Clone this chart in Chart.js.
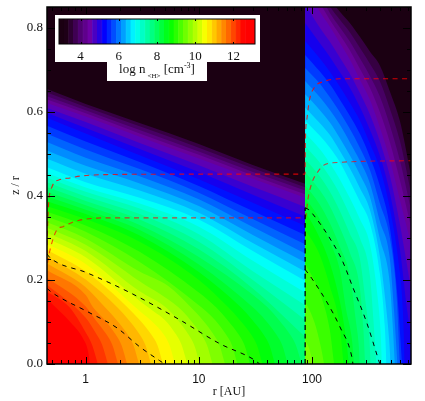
<!DOCTYPE html>
<html>
<head>
<meta charset="utf-8">
<script src="https://cdn.jsdelivr.net/npm/chart.js@4"></script>
<style>
html, body { margin: 0; padding: 0; background: #fff; }
#wrap { position: relative; width: 425px; height: 401px; overflow: hidden; }
#main { position: absolute; left: 0; top: 0; }
.box { position: absolute; background: #fff; }
#barbox { left: 55px; top: 15px; width: 205px; height: 47px; }
#unitbox { left: 107px; top: 62px; width: 100px; height: 19px; }
#bar { position: absolute; left: 55px; top: 15px; }
#unit { position: absolute; left: 107px; top: 61px; width: 100px; text-align: center; font: 13px "Liberation Serif", serif; color: #111; white-space: nowrap; }
#unit .s { font-size: 7px; position: relative; top: 5px; margin-left: 2px; }
#unit .u { font-size: 8px; position: relative; top: -5px; }
</style>
</head>
<body>
<div id="wrap">
  <canvas id="main" width="425" height="401"></canvas>
  <div class="box" id="barbox"></div>
  <div class="box" id="unitbox"></div>
  <canvas id="bar" width="205" height="47"></canvas>
  <div id="unit">log n<span class="s">&lt;H&gt;</span> [cm<span class="u">-3</span>]</div>
</div>
<script>
// colour table
const paletteValues = [2.9, 3.3, 4.0, 4.5, 5.27, 6.83, 8.7, 10.56, 12.55, 13.2];
const paletteColors = [[26,0,16],[31,0,24],[80,0,115],[110,0,165],[0,0,255],[0,255,255],[0,255,0],[255,255,0],[255,0,0],[255,0,0]];
const barLevels = [3,3.25,3.5,3.75,4,4.25,4.5,4.75,5,5.25,5.5,5.75,6,6.25,6.5,6.75,7,7.25,7.5,7.75,8,8.25,8.5,8.75,9,9.25,9.5,9.75,10,10.25,10.5,10.75,11,11.25,11.5,11.75,12,12.25,12.5,12.75,13];
const barLabels = [4,6,8,10,12];

// density contours inside the 87 AU break: z/r at each r column, then the tail down to the midplane
const innerColumns = [0.45,1,3,10,30,87];
const innerLevels = [3.5,3.75,4,4.25,4.5,4.75,5,5.25,5.5,5.75,6,6.25,6.5,6.75,7,7.25,7.5,7.75,8,8.25,8.5,8.75,9,9.25,9.5,9.75,10,10.25,10.5,10.75,11,11.25,11.5,11.75,12,12.25,12.5];
const innerZ = [
  [.655,.619,.574,.524,.474,.429],[.647,.612,.566,.515,.466,.421],[.638,.604,.557,.506,.457,.413],[.63,.597,.549,.498,.449,.404],
  [.622,.589,.541,.489,.441,.396],[.61,.576,.526,.473,.422,.374],[.599,.562,.512,.457,.403,.351],[.587,.549,.497,.44,.384,.329],
  [.568,.53,.481,.424,.364,.307],[.549,.511,.464,.408,.345,.285],[.529,.491,.447,.392,.326,.263],[.509,.472,.43,.376,.307,.242],
  [.489,.453,.413,.36,.288,.22],[.469,.433,.396,.344,.269,.198],[.455,.42,.382,.327,.246,.17],[.444,.41,.37,.309,.221,.14],
  [.433,.399,.357,.291,.2,.105],[.422,.388,.344,.273,.18,.065],[.41,.378,.331,.255,.165],[.399,.367,.319,.237,.135],
  [.388,.357,.306,.219],[.376,.345,.291,.2],[.363,.33,.267,.17],[.351,.315,.243,.14],
  [.338,.299,.22],[.325,.284,.197],[.313,.269,.173],[.3,.254,.15],
  [.287,.238,.126],[.272,.22,.105],[.256,.201],[.24,.183],
  [.224,.164],[.207,.137],[.19,.11],[.173],[.156]
];
const innerTailR = [[],[],[],[],[],[],[],[],[],[],[],[],[],[],[],[],[],[],
  [40.5,51,64,72,81],[38.6,48.4,54.5,61],[23.5,29.7,37.3,42,47],[18.2,23,29,32.6,36.5],[14.2,17.9,22.5,25.3,28.3],[13.9,17.4,19.6,21.9],
  [5.4,8.5,10.8,13.5,15.2,17],[6.6,8.4,10.5,11.8,13.2],[5.1,6.5,8.1,9.1,10.2],[4,5,6.3,7.05,7.9],[3.9,4.9,5.5,6.15],[3.8,4.3,4.82],
  [1.9,2.4,3,3.37,3.77],[1.48,1.87,2.35,2.64,2.96],[1.16,1.47,1.84,2.07,2.32],[1.22,1.53,1.72,1.93],[1.25,1.4,1.57],[.72,1,1.14,1.28],[.74,.95,1.05,1.09]];
const innerTailZ = [[],[],[],[],[],[],[],[],[],[],[],[],[],[],[],[],[],[],
  [.135,.105,.07,.045,0],[.105,.07,.045,0],[.135,.105,.07,.045,0],[.135,.105,.07,.045,0],[.135,.105,.07,.045,0],[.105,.07,.045,0],
  [.185,.135,.105,.07,.045,0],[.135,.105,.07,.045,0],[.135,.105,.07,.045,0],[.125,.105,.07,.045,0],[.1,.07,.045,0],[.07,.045,0],
  [.135,.105,.07,.045,0],[.135,.105,.07,.045,0],[.135,.105,.07,.045,0],[.105,.07,.045,0],[.07,.045,0],[.135,.075,.045,0],[.098,.06,.03,0]];

// same thing outside the break
const outerColumns = [87,117,144,176,216,265,325,398,488,598,760];
const outerLevels = [3.5,3.75,4,4.25,4.5,4.75,5,5.25,5.5,5.75,6,6.25,6.5,6.75,7,7.25,7.5,7.75,8,8.25,8.5,8.75,9,9.25,9.5];
const outerZ = [
  [.946,.922,.871,.839,.812,.779,.744,.711,.649,.579,.44],[.934,.901,.852,.82,.79,.753,.715,.673,.608,.532,.4],
  [.923,.88,.836,.802,.768,.728,.686,.637,.568,.485,.36],[.912,.86,.819,.784,.747,.703,.658,.6,.528,.438,.32],
  [.9,.839,.803,.765,.725,.677,.629,.563,.487,.391,.28],[.856,.801,.767,.73,.691,.645,.594,.53,.448,.333,.17],
  [.812,.764,.731,.695,.658,.612,.558,.496,.407,.274],[.769,.728,.696,.661,.622,.58,.525,.466,.37,.218],
  [.736,.697,.666,.63,.591,.548,.493,.424,.325],[.705,.668,.635,.6,.56,.515,.462,.383,.3],
  [.674,.636,.605,.57,.528,.484,.43,.34,.25],[.642,.605,.575,.538,.497,.451,.398,.298,.19],
  [.611,.574,.545,.508,.466,.419,.367,.256],[.58,.544,.515,.481,.435,.387,.335,.215],
  [.55,.512,.478,.44,.395,.345,.285],[.519,.48,.445,.405,.355,.3,.21],
  [.488,.447,.41,.365,.31,.25],[.457,.414,.375,.325,.265,.18],
  [.426,.38,.335,.28,.21],[.395,.345,.29,.225],[.364,.3,.24,.15],[.32,.26,.185,.09],
  [.24,.17,.08],[.15],[.058]
];
const outerTailR = [[],[],[],[],[],[],[700,760,800],[635,660],[570,625],[560,598],[530,570],[515,540],
  [450,480,495],[440,455],[380,405,415],[350,370],[300,320,330],[285,295],[245,258,265],[200,225,236],[200,212],[190],[157],[105,120,128],[95,102]];
const outerTailZ = [[],[],[],[],[],[],[.12,.06,0],[.13,0],[.16,0],[.16,0],[.13,0],[.1,0],
  [.14,.06,0],[.09,0],[.16,.07,0],[.1,0],[.14,.07,0],[.08,0],[.1,.05,0],[.13,.06,0],[.06,0],[0],[0],[.1,.04,0],[.035,0]];

// dashed contours
const redUpperR = [.455,.46,.47,.504,.593,.727,.93,1.54,10,87,87,87.5,90,95,106,125,176,373,760];
const redUpperZ = [.26,.32,.38,.422,.439,.443,.448,.451,.452,.452,.452,.534,.582,.629,.66,.672,.679,.679,.679];
const redLowerR = [.46,.484,.558,.63,.757,.946,1.54,10,87,88,92,100,111,125,152,760];
const redLowerZ = [.241,.272,.32,.327,.337,.344,.348,.348,.348,.35,.392,.432,.455,.472,.479,.484];
const blackInner1R = [.455,.484,1.03,2.46,6.8,15.4,30,34.5];
const blackInner1Z = [.262,.253,.217,.17,.105,.048,.012,0];
const blackInner2R = [.455,.504,1.03,1.89,3,4.5,5];
const blackInner2Z = [.18,.17,.125,.086,.041,.008,0];
const blackOuter1R = [87,100,135,176,225,230];
const blackOuter1Z = [.225,.203,.148,.089,.017,0];
const blackOuter2R = [87,94,108,123,141,184,230,305,382,398];
const blackOuter2Z = [.372,.367,.348,.327,.303,.248,.182,.098,.015,0];
const breakR = [87,87];
const breakZ = [0,.372];

const xLabels = [1,10,100];
const xMinorTicks = [.5,.6,.7,.8,.9,2,3,4,5,6,7,8,9,20,30,40,50,60,70,80,90,200,300,400,500,600,700];
const yLabels = [0,.2,.4,.6,.8];
const yMinorTicks = [.05,.1,.15,.25,.3,.35,.45,.5,.55,.65,.7,.75,.85];

function colorOf(v) {
  let i = 0;
  while (i < paletteValues.length - 2 && v > paletteValues[i + 1]) i++;
  const f = Math.min(1, Math.max(0, (v - paletteValues[i]) / (paletteValues[i + 1] - paletteValues[i])));
  const c = paletteColors[i].map((a, k) => Math.round(a + (paletteColors[i + 1][k] - a) * f));
  return 'rgb(' + c.join(',') + ')';
}

function pairs(rs, zs) {
  return rs.map((r, i) => ({x: r, y: zs[i]}));
}

const datasets = [];
function addContours(levels, columns, zRows, tailR, tailZ) {
  levels.forEach((level, i) => {
    const rs = columns.slice(0, zRows[i].length).concat(tailR[i]);
    datasets.push({
      data: pairs(rs, zRows[i].concat(tailZ[i])),
      // a band runs from this level to the next, so take the colour of its middle
      backgroundColor: colorOf(level + .125),
      borderWidth: 0,
      pointRadius: 0,
      fill: {value: 0},
      cubicInterpolationMode: 'monotone'
    });
  });
}
addContours(innerLevels, innerColumns, innerZ, innerTailR, innerTailZ);
addContours(outerLevels, outerColumns, outerZ, outerTailR, outerTailZ);

function addDashed(rs, zs, color, width, dash) {
  datasets.push({
    data: pairs(rs, zs),
    borderColor: color,
    borderWidth: width,
    borderDash: dash,
    pointRadius: 0,
    fill: false,
    cubicInterpolationMode: 'monotone'
  });
}
addDashed(redUpperR, redUpperZ, 'rgba(255,0,0,.8)', 1.1, [5, 4.5]);
addDashed(redLowerR, redLowerZ, 'rgba(255,0,0,.7)', 1.1, [5, 4.5]);
addDashed(blackInner1R, blackInner1Z, '#000', 1, [4.5, 5]);
addDashed(blackInner2R, blackInner2Z, '#000', 1, [4.5, 5]);
addDashed(blackOuter1R, blackOuter1Z, '#000', 1, [4.5, 5]);
addDashed(blackOuter2R, blackOuter2Z, '#000', 1, [4.5, 5]);
addDashed(breakR, breakZ, '#000', 1.3, [5, 3.5]);
// lower order draws on top, so the list above runs bottom to top
datasets.forEach((d, i) => { d.order = datasets.length - i; });

// dark ground and the inward ticks on all four sides
const frame = {
  id: 'frame',
  beforeDatasetsDraw(chart) {
    const a = chart.chartArea;
    chart.ctx.fillStyle = colorOf(3);
    chart.ctx.fillRect(a.left, a.top, a.width, a.height);
  },
  afterDatasetsDraw(chart) {
    const ctx = chart.ctx, a = chart.chartArea, x = chart.scales.x, y = chart.scales.y;
    ctx.save();
    ctx.strokeStyle = '#000';
    ctx.lineWidth = 1;
    ctx.beginPath();
    const xTick = (v, len) => {
      const p = Math.round(x.getPixelForValue(v)) + .5;
      ctx.moveTo(p, a.bottom); ctx.lineTo(p, a.bottom - len);
      ctx.moveTo(p, a.top); ctx.lineTo(p, a.top + len);
    };
    const yTick = (v, len) => {
      const p = Math.round(y.getPixelForValue(v)) + .5;
      ctx.moveTo(a.left, p); ctx.lineTo(a.left + len, p);
      ctx.moveTo(a.right, p); ctx.lineTo(a.right - len, p);
    };
    xLabels.forEach(v => xTick(v, 7));
    xMinorTicks.forEach(v => xTick(v, 4));
    yLabels.forEach(v => yTick(v, 8));
    yMinorTicks.forEach(v => yTick(v, 4));
    ctx.stroke();
    ctx.lineWidth = 1.5;
    ctx.strokeRect(a.left, a.top, a.width, a.height);
    ctx.restore();
  }
};

new Chart(document.getElementById('main'), {
  type: 'line',
  data: {datasets: datasets},
  plugins: [frame],
  options: {
    responsive: false,
    animation: false,
    devicePixelRatio: 1,
    layout: {padding: {top: 7, right: 14, left: 0, bottom: 0}},
    plugins: {legend: {display: false}, tooltip: {enabled: false}},
    events: [],
    scales: {
      x: {
        type: 'logarithmic',
        min: .455,
        max: 750,
        afterFit(s) { s.height = 37; s.paddingLeft = 0; s.paddingRight = 0; },
        afterBuildTicks(s) { s.ticks = xLabels.map(v => ({value: v})); },
        grid: {display: false, drawTicks: false},
        border: {display: false},
        ticks: {
          autoSkip: false, maxRotation: 0, padding: 8, color: '#111',
          font: {family: '"Liberation Sans"', size: 12},
          callback: v => String(v)
        },
        title: {display: true, text: 'r [AU]', color: '#111', padding: {top: 0, bottom: 2}, font: {family: '"Liberation Serif"', size: 12}}
      },
      y: {
        min: 0,
        max: .85,
        afterFit(s) { s.width = 47; s.paddingTop = 0; s.paddingBottom = 0; },
        afterBuildTicks(s) { s.ticks = yLabels.map(v => ({value: v})); },
        grid: {display: false, drawTicks: false},
        border: {display: false},
        ticks: {
          padding: 4, color: '#111',
          font: {family: '"Liberation Serif"', size: 13},
          callback: v => v.toFixed(1)
        },
        title: {display: true, text: 'z / r', color: '#111', padding: {top: 9, bottom: 0}, font: {family: '"Liberation Serif"', size: 12}}
      }
    }
  }
});

// colour bar: one bar per level on a category axis
const barFrame = {
  id: 'barFrame',
  afterDatasetsDraw(chart) {
    const ctx = chart.ctx, a = chart.chartArea, x = chart.scales.x;
    ctx.save();
    ctx.strokeStyle = '#000';
    ctx.lineWidth = 1;
    ctx.strokeRect(a.left, a.top, a.width, a.height);
    ctx.beginPath();
    barLabels.forEach(v => {
      const p = Math.round(x.getPixelForValue(barLevels.indexOf(v))) + .5;
      ctx.moveTo(p, a.top); ctx.lineTo(p, a.top + 2);
      ctx.moveTo(p, a.bottom); ctx.lineTo(p, a.bottom - 2);
    });
    ctx.stroke();
    ctx.restore();
  }
};

new Chart(document.getElementById('bar'), {
  type: 'bar',
  data: {
    labels: barLevels,
    datasets: [{
      data: barLevels.map(() => 1),
      backgroundColor: barLevels.map(colorOf),
      borderColor: barLevels.map(colorOf),
      borderWidth: .5,
      barPercentage: 1,
      categoryPercentage: 1
    }]
  },
  plugins: [barFrame],
  options: {
    responsive: false,
    animation: false,
    devicePixelRatio: 1,
    layout: {padding: {top: 4, left: 4, right: 5, bottom: 0}},
    plugins: {legend: {display: false}, tooltip: {enabled: false}},
    events: [],
    scales: {
      x: {
        afterFit(s) { s.height = 18; s.paddingLeft = 0; s.paddingRight = 0; },
        grid: {display: false, drawTicks: false},
        border: {display: false},
        ticks: {
          autoSkip: false, maxRotation: 0, padding: 5, color: '#111',
          font: {family: '"Liberation Serif"', size: 13},
          callback(v, i) { return barLabels.includes(barLevels[i]) ? String(barLevels[i]) : ''; }
        }
      },
      y: {display: false, min: 0, max: 1}
    }
  }
});
</script>
</body>
</html>
